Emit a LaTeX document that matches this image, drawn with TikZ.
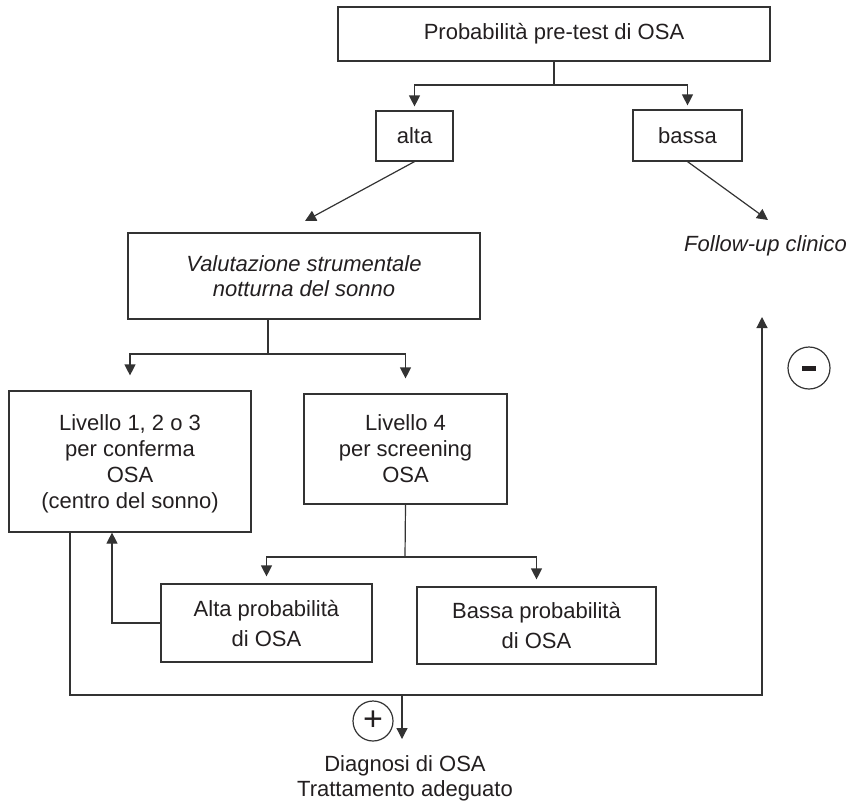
\documentclass[tikz,border=0pt]{standalone}
\usepackage{fontspec}
\setmainfont{Liberation Sans}
\usepackage{tikz}
\usetikzlibrary{arrows.meta,calc}
\definecolor{ink}{HTML}{231F20}
\definecolor{lin}{HTML}{333333}
\tikzset{
  box/.style={draw=lin, line width=0.6pt, text=ink, align=center, inner sep=0pt, font=\fontsize{11}{13}\selectfont},
  boxi/.style={box, font=\fontsize{11}{12.5}\selectfont\itshape},
  lab/.style={text=ink, align=center, inner sep=0pt, font=\fontsize{11}{12.5}\selectfont},
  wire/.style={draw=lin, line width=0.6pt, line join=miter},
  arr/.style={wire, -{Triangle[length=5.5pt,width=5.5pt]}},
  sign/.style={circle, draw=lin, line width=0.6pt, text=ink, inner sep=0pt, minimum size=20pt},
}

\begin{document}
\begin{tikzpicture}[x=0.5pt,y=-0.5pt]
  \useasboundingbox (0,0) rectangle (850,805);

  % boxes
  \node[box, minimum width=216pt, minimum height=27pt] (top) at (554,34) {Probabilità pre-test di OSA};
  \node[box, minimum width=38.5pt, minimum height=25pt] (alta) at (414.5,136) {alta};
  \node[box, minimum width=54.5pt, minimum height=25.5pt] (bassa) at (687.5,135.5) {bassa};
  \node[boxi, minimum width=176pt, minimum height=43pt] (valut) at (304,276) {Valutazione strumentale\\notturna del sonno};
  \node[box, minimum width=121pt, minimum height=70.5pt, text depth=0pt] (liv1) at (130,461.5) {Livello 1, 2 o 3\\per conferma\\OSA\\(centro del sonno)};
  \node[box, minimum width=101.5pt, minimum height=55pt] (liv4) at (405.5,449) {Livello 4\\per screening\\OSA};
  \node[box, minimum width=105.5pt, minimum height=39pt] (altap) at (266.5,623) {Alta probabilità\\[2pt]di OSA};
  \node[box, minimum width=119.5pt, minimum height=38.5pt] (bassap) at (536.5,625.5) {Bassa probabilità\\[2pt]di OSA};

  % free texts and signs
  \node[lab, font=\fontsize{11}{12.5}\selectfont\itshape] (fup) at (765.5,246) {Follow-up clinico};
  \node[lab] (diag) at (405,778) {Diagnosi di OSA\\Trattamento adeguato};
  \node[sign] (plus) at (373,721) {\fontsize{17}{17}\selectfont\raisebox{0.5pt}{+}};
  \node[sign, minimum size=21pt] (minus) at (809,368) {\rule{7pt}{2.5pt}};

  \coordinate (t1) at (554,85);
  \coordinate (vtip) at (305,221);
  \coordinate (ftip) at (768,220);
  \coordinate (v1) at (268,354);
  \coordinate (l1) at (405,557);
  \coordinate (fb) at (112,623);
  \coordinate (lp1) at (70,695);
  \coordinate (lp2) at (762,695);
  \coordinate (lp3) at (762,317);
  \coordinate (dg) at (402,695);
  \coordinate (dgtip) at (402,739);

  % first split
  \draw[wire] (top.south) -- (t1);
  \draw[arr, shorten >=2pt] (t1) -| (alta.north);
  \draw[arr, shorten >=2pt] (t1) -| (bassa.north);
  \draw[arr] (alta.south) -- (vtip);
  \draw[arr] (bassa.south) -- (ftip);

  % instrumental assessment
  \draw[wire] (v1 |- valut.south) -- (v1);
  \draw[arr, shorten >=7.5pt] (v1) -| (liv1.north);
  \draw[arr, shorten >=7.5pt] (v1) -| (liv4.north);

  % level 4 outcome
  \draw[wire] (liv4.south) -- (l1);
  \draw[arr, shorten >=3.5pt] (l1) -| (altap.north);
  \draw[arr, shorten >=3.5pt] (l1) -| (bassap.north);
  \draw[arr] (altap.west) -- (fb) -- (fb |- liv1.south);

  % result loop
  \draw[arr] (lp1 |- liv1.south) -- (lp1) -- (lp2) -- (lp3);
  \draw[arr] (dg) -- (dgtip);
\end{tikzpicture}
\end{document}
